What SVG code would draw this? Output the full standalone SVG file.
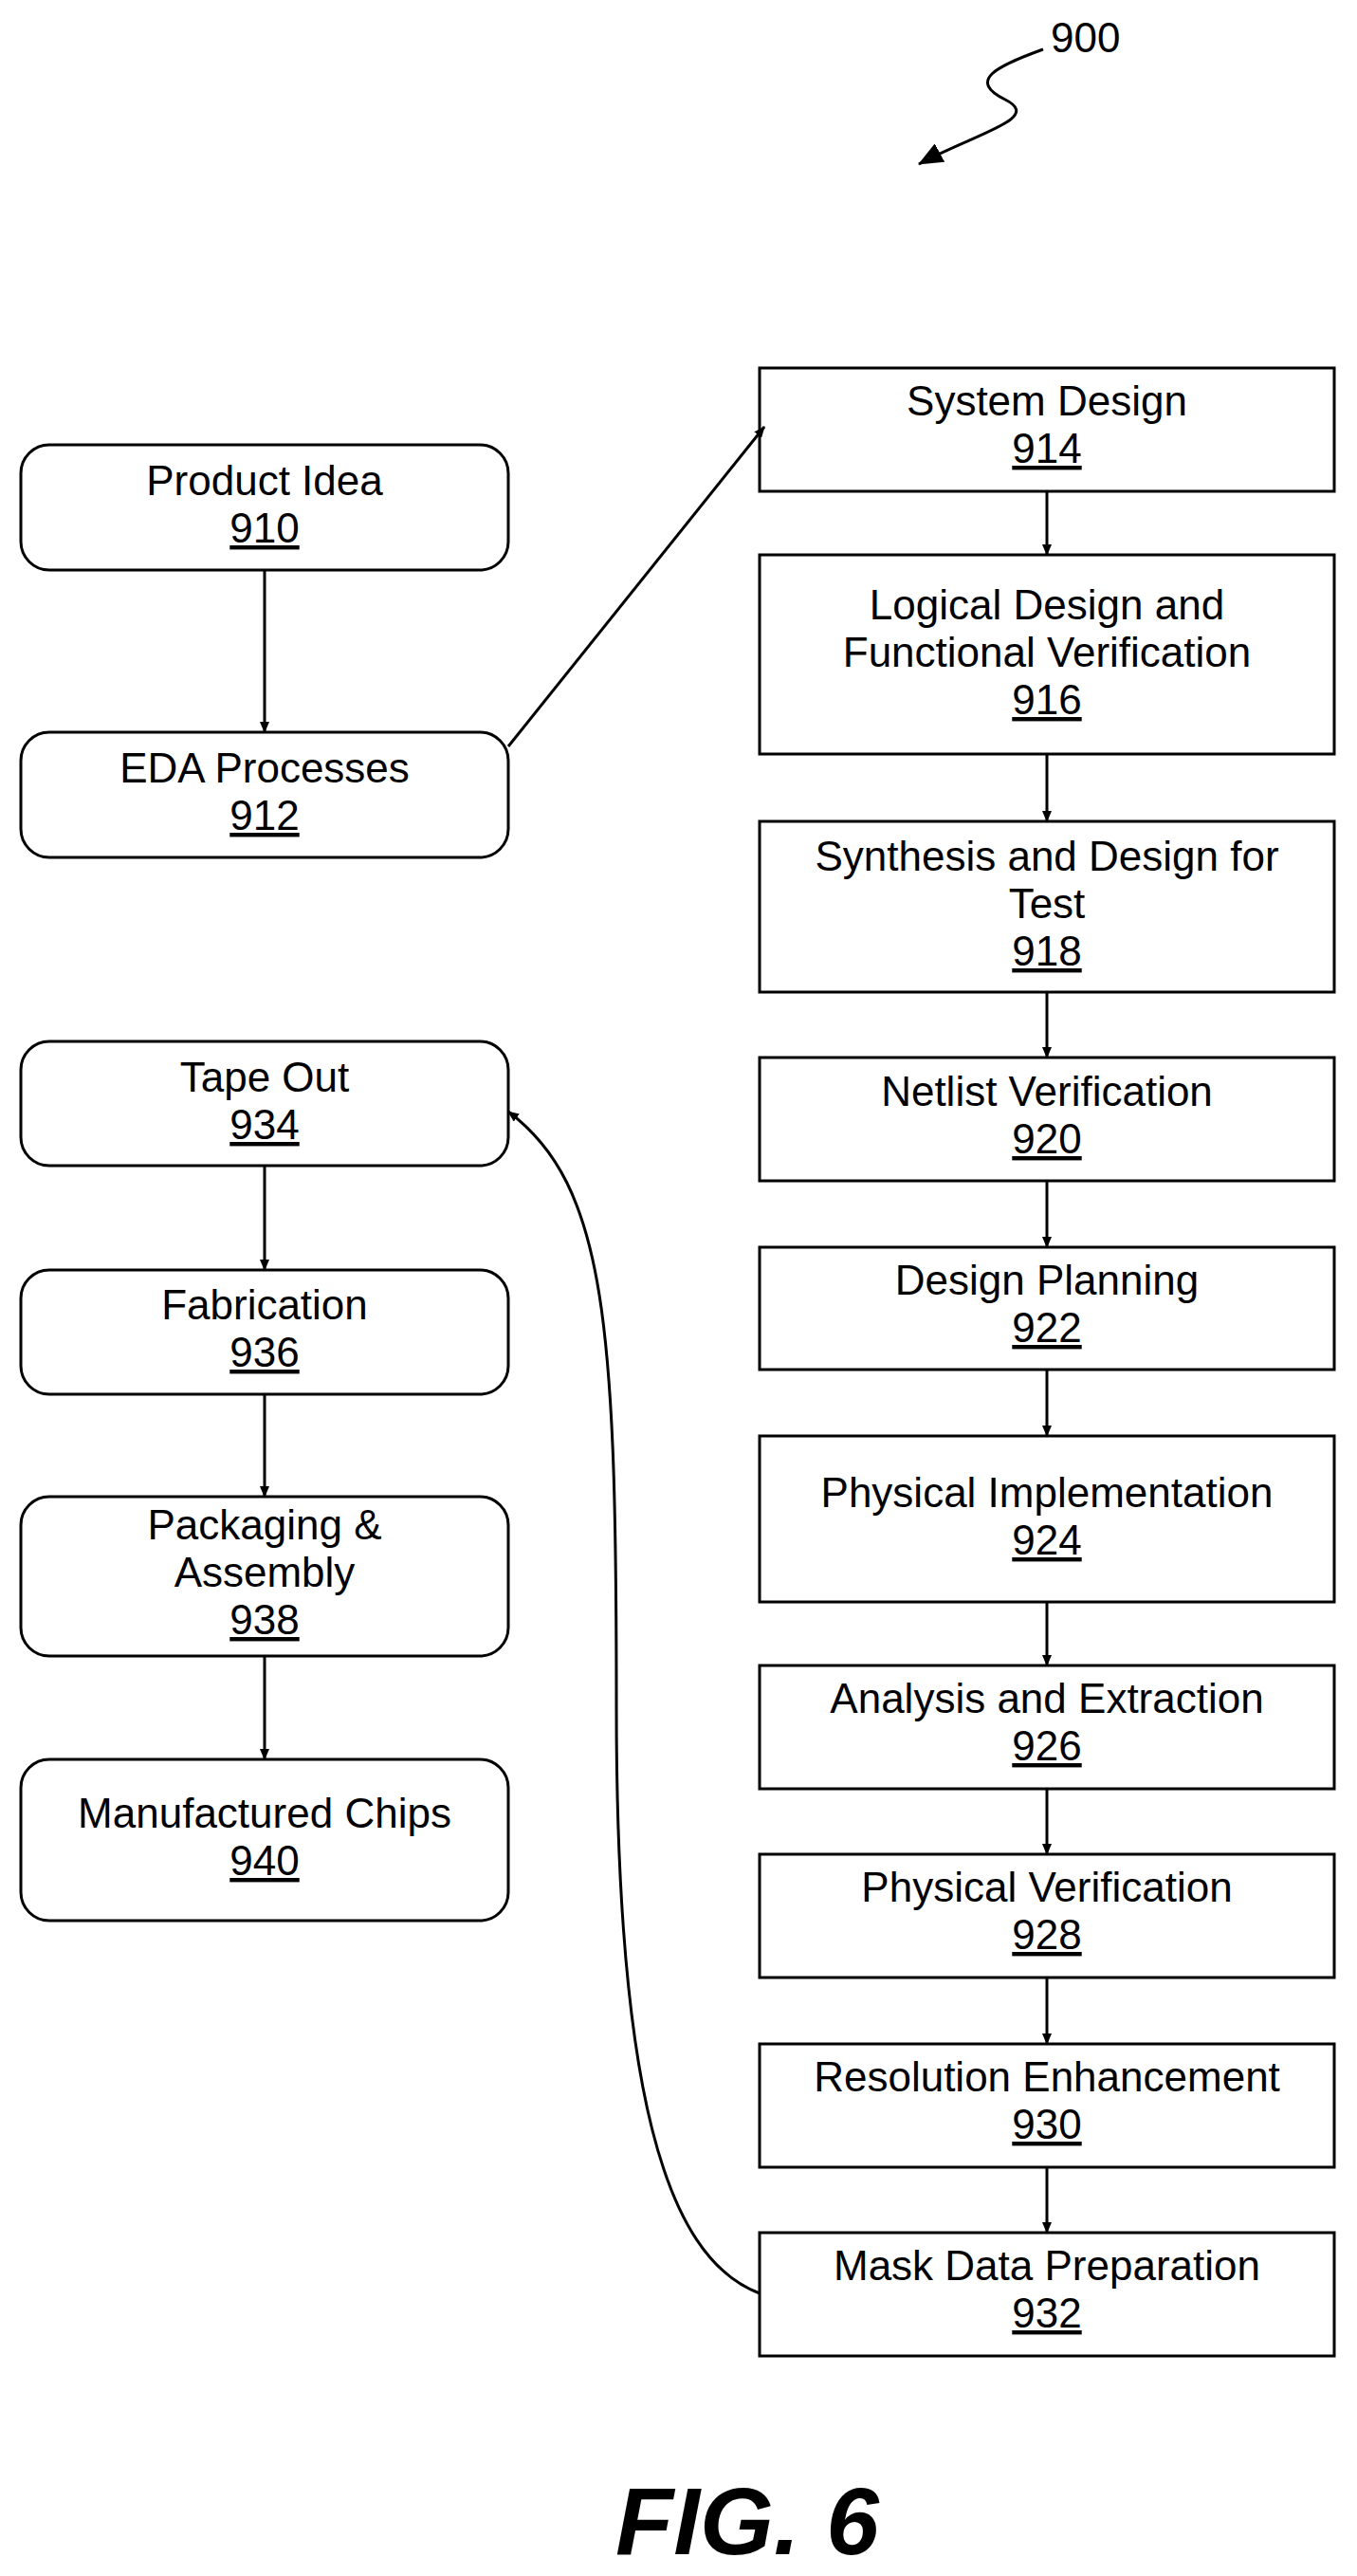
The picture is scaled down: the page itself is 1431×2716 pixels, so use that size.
<svg xmlns="http://www.w3.org/2000/svg" width="1431" height="2716" viewBox="0 0 1431 2716">
<style>
.b{fill:#fff;stroke:#000;stroke-width:3}
text{font-family:"Liberation Sans",Arial,sans-serif;font-size:44px;text-anchor:middle;fill:#000}
.u{text-decoration:underline}
.c{fill:none;stroke:#000;stroke-width:3}
</style>
<defs><marker id="a" markerWidth="12" markerHeight="10" refX="11" refY="5" orient="auto" markerUnits="userSpaceOnUse" viewBox="0 0 12 10"><path d="M0,0L12,5L0,10z" fill="#000"/></marker>
<marker id="a2" markerWidth="26" markerHeight="22" refX="25" refY="11" orient="auto" markerUnits="userSpaceOnUse" viewBox="0 0 26 22"><path d="M0,0L26,11L0,22z" fill="#000"/></marker></defs>
<rect width="1431" height="2716" fill="#fff"/>
<g id="n910"><rect class="b" x="22" y="469" width="514" height="132" rx="30"/><text x="279" y="522">Product Idea</text><text class="u" x="279" y="572">910</text></g>
<g id="n912"><rect class="b" x="22" y="772" width="514" height="132" rx="30"/><text x="279" y="825">EDA Processes</text><text class="u" x="279" y="875">912</text></g>
<g id="n934"><rect class="b" x="22" y="1098" width="514" height="131" rx="30"/><text x="279" y="1151">Tape Out</text><text class="u" x="279" y="1201">934</text></g>
<g id="n936"><rect class="b" x="22" y="1339" width="514" height="131" rx="30"/><text x="279" y="1391">Fabrication</text><text class="u" x="279" y="1441">936</text></g>
<g id="n938"><rect class="b" x="22" y="1578" width="514" height="168" rx="30"/><text x="279" y="1623">Packaging &amp;</text><text x="279" y="1673">Assembly</text><text class="u" x="279" y="1723">938</text></g>
<g id="n940"><rect class="b" x="22" y="1855" width="514" height="170" rx="30"/><text x="279" y="1927">Manufactured Chips</text><text class="u" x="279" y="1977">940</text></g>
<g id="n914"><rect class="b" x="801" y="388" width="606" height="130"/><text x="1104" y="438">System Design</text><text class="u" x="1104" y="488">914</text></g>
<g id="n916"><rect class="b" x="801" y="585" width="606" height="210"/><text x="1104" y="653">Logical Design and</text><text x="1104" y="703">Functional Verification</text><text class="u" x="1104" y="753">916</text></g>
<g id="n918"><rect class="b" x="801" y="866" width="606" height="180"/><text x="1104" y="918">Synthesis and Design for</text><text x="1104" y="968">Test</text><text class="u" x="1104" y="1018">918</text></g>
<g id="n920"><rect class="b" x="801" y="1115" width="606" height="130"/><text x="1104" y="1166">Netlist Verification</text><text class="u" x="1104" y="1216">920</text></g>
<g id="n922"><rect class="b" x="801" y="1315" width="606" height="129"/><text x="1104" y="1365">Design Planning</text><text class="u" x="1104" y="1415">922</text></g>
<g id="n924"><rect class="b" x="801" y="1514" width="606" height="175"/><text x="1104" y="1589">Physical Implementation</text><text class="u" x="1104" y="1639">924</text></g>
<g id="n926"><rect class="b" x="801" y="1756" width="606" height="130"/><text x="1104" y="1806">Analysis and Extraction</text><text class="u" x="1104" y="1856">926</text></g>
<g id="n928"><rect class="b" x="801" y="1955" width="606" height="130"/><text x="1104" y="2005">Physical Verification</text><text class="u" x="1104" y="2055">928</text></g>
<g id="n930"><rect class="b" x="801" y="2155" width="606" height="130"/><text x="1104" y="2205">Resolution Enhancement</text><text class="u" x="1104" y="2255">930</text></g>
<g id="n932"><rect class="b" x="801" y="2354" width="606" height="130"/><text x="1104" y="2404">Mask Data Preparation</text><text class="u" x="1104" y="2454">932</text></g>
<g id="connectors" class="c">
<path class="c" marker-end="url(#a)" d="M279,601V772"/>
<path class="c" marker-end="url(#a)" d="M536,787L806,450"/>
<path class="c" marker-end="url(#a)" d="M279,1229V1339"/>
<path class="c" marker-end="url(#a)" d="M279,1470V1578"/>
<path class="c" marker-end="url(#a)" d="M279,1746V1855"/>
<path class="c" marker-end="url(#a)" d="M1104,518V585"/>
<path class="c" marker-end="url(#a)" d="M1104,795V866"/>
<path class="c" marker-end="url(#a)" d="M1104,1046V1115"/>
<path class="c" marker-end="url(#a)" d="M1104,1245V1315"/>
<path class="c" marker-end="url(#a)" d="M1104,1444V1514"/>
<path class="c" marker-end="url(#a)" d="M1104,1689V1756"/>
<path class="c" marker-end="url(#a)" d="M1104,1886V1955"/>
<path class="c" marker-end="url(#a)" d="M1104,2085V2155"/>
<path class="c" marker-end="url(#a)" d="M1104,2285V2354"/>
<path class="c" marker-end="url(#a)" d="M801,2418C700,2380 650,2200 650,1800C650,1400 640,1250 536,1172"/>
<path class="c" marker-end="url(#a2)" d="M1100,52C1050,70 1020,85 1060,105C1100,125 1030,140 969,173"/>
</g>
<text x="1108" y="55" style="text-anchor:start">900</text>
<text x="788" y="2693" style="font-size:100px;font-weight:bold;font-style:italic">FIG. 6</text>
</svg>
